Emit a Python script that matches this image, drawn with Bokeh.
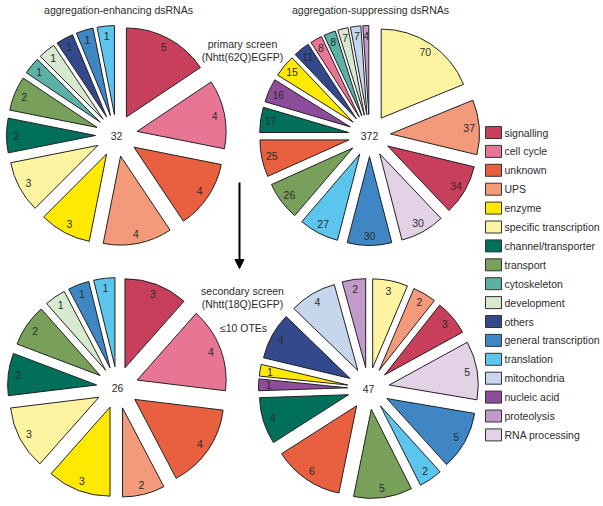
import math
from bokeh.plotting import figure
from bokeh.models import Range1d, Arrow, NormalHead
from bokeh.core.properties import value
from bokeh.embed import file_html
from bokeh.resources import INLINE

# ---------------- data ----------------
categories = ["signalling", "cell cycle", "unknown", "UPS", "enzyme",
              "specific transcription", "channel/transporter", "transport",
              "cytoskeleton", "development", "others", "general transcription",
              "translation", "mitochondria", "nucleic acid", "proteolysis",
              "RNA processing"]
cat_colors = ["#C83F5B", "#E97594", "#E8603F", "#F29A79", "#FFE900",
              "#FDF4A1", "#00705B", "#78A05A", "#5BB1A4", "#D7EACF",
              "#34488C", "#3E86C4", "#5CC5ED", "#C6D6EC", "#8D4D9B",
              "#C39BCB", "#E3D2E6"]

enh_primary_cats = ["signalling", "cell cycle", "unknown", "UPS", "enzyme",
                    "specific transcription", "channel/transporter", "transport",
                    "cytoskeleton", "development", "others",
                    "general transcription", "translation"]
enh_primary_vals = [5, 4, 4, 4, 3, 3, 2, 2, 1, 1, 1, 1, 1]

sup_primary_cats = ["specific transcription", "UPS", "signalling", "RNA processing",
                    "general transcription", "translation", "transport", "unknown",
                    "channel/transporter", "nucleic acid", "enzyme", "others",
                    "cell cycle", "cytoskeleton", "development", "mitochondria",
                    "proteolysis"]
sup_primary_vals = [70, 37, 34, 30, 30, 27, 26, 25, 17, 16, 15, 11, 8, 8, 7, 7, 4]

enh_secondary_cats = ["signalling", "cell cycle", "unknown", "UPS", "enzyme",
                      "specific transcription", "channel/transporter", "transport",
                      "development", "general transcription", "translation"]
enh_secondary_vals = [3, 4, 4, 2, 3, 3, 2, 2, 1, 1, 1]

sup_secondary_cats = ["specific transcription", "UPS", "signalling", "RNA processing",
                      "general transcription", "translation", "transport", "unknown",
                      "channel/transporter", "nucleic acid", "enzyme", "others",
                      "mitochondria", "proteolysis"]
sup_secondary_vals = [3, 2, 3, 5, 5, 2, 5, 6, 4, 1, 1, 4, 4, 2]

titles = ["aggregation-enhancing dsRNAs", "aggregation-suppressing dsRNAs"]
primary_note = ["primary screen", "(Nhtt(62Q)EGFP)"]
secondary_note = ["secondary screen", "(Nhtt(18Q)EGFP)", "\u226410 OTEs"]

# ---------------- layout ----------------
W, H = 603, 506
FONT = value("Liberation Sans")
FS = value("10.5px")
TXT = "#2b2b2b"


def px(X, Y):
    """reference page pixel -> data coords"""
    return X, H - Y


p = figure(width=W, height=H, output_backend="svg", toolbar_location=None,
           x_range=Range1d(0, W), y_range=Range1d(0, H),
           x_axis_location=None, y_axis_location=None, min_border=0)
p.grid.visible = False
p.outline_line_color = None
p.background_fill_color = "white"

R = 89.0
OFF = 21.0
LAB_R = 100.0

pies = [
    (enh_primary_cats, enh_primary_vals, px(116, 135)),
    (sup_primary_cats, sup_primary_vals, px(369, 135)),
    (enh_secondary_cats, enh_secondary_vals, px(117, 387)),
    (sup_secondary_cats, sup_secondary_vals, px(368, 388)),
]

for cats, vals, (cx, cy) in pies:
    total = float(sum(vals))
    xs, ys, sa, ea, cols, lx, ly, lt = [], [], [], [], [], [], [], []
    cum = 0.0
    for c, v in zip(cats, vals):
        a1 = math.pi / 2 - 2 * math.pi * cum / total
        cum += v
        a0 = math.pi / 2 - 2 * math.pi * cum / total
        mid = (a0 + a1) / 2
        xs.append(cx + OFF * math.cos(mid))
        ys.append(cy + OFF * math.sin(mid))
        sa.append(a0)
        ea.append(a1)
        cols.append(cat_colors[categories.index(c)])
        lx.append(cx + LAB_R * math.cos(mid))
        ly.append(cy + LAB_R * math.sin(mid))
        lt.append(str(v))
    p.wedge(x=xs, y=ys, radius=R, start_angle=sa, end_angle=ea,
            direction="anticlock", fill_color=cols, line_color="#222222",
            line_width=1)
    p.text(x=lx, y=ly, text=lt, text_align="center", text_baseline="middle",
           text_font=FONT, text_font_size=FS, text_color=TXT)
    p.text(x=[cx], y=[cy], text=[str(int(total))], text_align="center",
           text_baseline="middle", text_font=FONT, text_font_size=FS,
           text_color=TXT)

# titles
tx, ty = zip(px(118, 9), px(370, 9))
p.text(x=list(tx), y=list(ty), text=titles, text_align="center",
       text_baseline="middle", text_font=FONT, text_font_size=FS, text_color=TXT)

# notes
nx, ny = zip(px(242, 43), px(242, 56))
p.text(x=list(nx), y=list(ny), text=primary_note, text_align="center",
       text_baseline="middle", text_font=FONT, text_font_size=FS, text_color=TXT)
sx, sy = zip(px(242, 290), px(242, 303), px(243, 327))
p.text(x=list(sx), y=list(sy), text=secondary_note, text_align="center",
       text_baseline="middle", text_font=FONT, text_font_size=FS, text_color=TXT)

# arrow
ax0, ay0 = px(239, 182)
ax1, ay1 = px(239, 268)
p.add_layout(Arrow(end=NormalHead(size=9, fill_color="black", line_color="black"),
                   x_start=ax0, y_start=ay0, x_end=ax1, y_end=ay1,
                   line_width=2, line_color="black"))

# legend
gx, gy0 = px(493, 132)
step = 18.9
ly = [gy0 - i * step for i in range(len(categories))]
p.rect(x=[gx] * len(categories), y=ly, width=16, height=12,
       fill_color=cat_colors, line_color="#333333", line_width=1)
tx0, _ = px(504, 0)
p.text(x=[tx0] * len(categories), y=ly, text=categories, text_align="left",
       text_baseline="middle", text_font=FONT, text_font_size=FS, text_color=TXT)

open("out.html", "w").write(file_html(p, INLINE))
